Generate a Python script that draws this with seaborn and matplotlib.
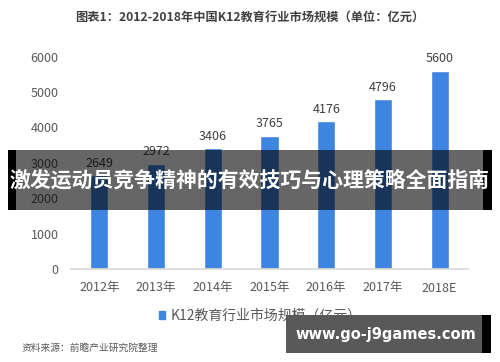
import matplotlib
matplotlib.use("Agg")
import matplotlib.pyplot as plt
from matplotlib.patches import Rectangle, Patch
import seaborn as sns
import pandas as pd

years = ["2012年", "2013年", "2014年", "2015年", "2016年", "2017年", "2018E"]
market = [2649, 2972, 3406, 3765, 4176, 4796, 5600]
yticks = [0, 1000, 2000, 3000, 4000, 5000, 6000]

title = "图表1：2012-2018年中国K12教育行业市场规模（单位：亿元）"
legend_label = "K12教育行业市场规模（亿元）"
source = "资料来源：前瞻产业研究院整理"
banner = "激发运动员竞争精神的有效技巧与心理策略全面指南"
site = "www.go-j9games.com"

bar_color = "#3d85e0"
W, H = 500, 362

sns.set_theme(style="white")
plt.rcParams["font.family"] = ["Noto Sans CJK SC", "DejaVu Sans"]

df = pd.DataFrame({"year": years, "value": market})

fig = plt.figure(figsize=(W / 100, H / 100), dpi=100)
fig.patch.set_facecolor("white")

def fx(px):
    return px / W

def fy(py):
    return 1 - py / H

ax = fig.add_axes([fx(71), fy(269), (468 - 71) / W, (269 - 56.5) / H])
sns.barplot(data=df, x="year", y="value", color=bar_color, width=0.32,
            saturation=1, ax=ax)
ax.set_xlim(-0.5, 6.5)
ax.set_ylim(0, 6000)
ax.set_yticks(yticks)
ax.set_xlabel("")
ax.set_ylabel("")
ax.bar_label(ax.containers[0], padding=4, fontsize=9, color="#404040")
ax.tick_params(axis="y", labelsize=9, colors="#595959", length=0, pad=9)
ax.tick_params(axis="x", labelsize=9, colors="#595959", length=0, pad=9)
for s in ["top", "right", "left"]:
    ax.spines[s].set_visible(False)
ax.spines["bottom"].set_color("#d9d9d9")
ax.grid(False)

fig.text(0.5, fy(17), title, ha="center", va="center", fontsize=8.8,
         fontweight="bold", color="#404040")

fig.legend(handles=[Patch(color=bar_color)], labels=[legend_label],
           loc="center left", bbox_to_anchor=(fx(146), fy(316)),
           frameon=False, fontsize=10, handlelength=0.45, handleheight=0.45,
           handletextpad=0.4, labelcolor="#595959")

fig.text(fx(22), fy(348), source, ha="left", va="center", fontsize=7,
         color="#595959", style="italic")

# dark banner across the middle
fig.patches.append(Rectangle((fx(8), fy(210)), fx(8), 60 / H, transform=fig.transFigure,
                             facecolor="black", edgecolor="none", zorder=5))
fig.patches.append(Rectangle((fx(483), fy(210)), fx(9), 60 / H, transform=fig.transFigure,
                             facecolor="black", edgecolor="none", zorder=5))
fig.patches.append(Rectangle((fx(16), fy(210)), fx(467), 60 / H, transform=fig.transFigure,
                             facecolor="black", alpha=0.6, edgecolor="none", zorder=5))
fig.text(0.5, fy(180), banner, ha="center", va="center", fontsize=15,
         fontweight="bold", color="white", zorder=6)

# site watermark box
fig.patches.append(Rectangle((fx(286), fy(353)), fx(196), 38 / H, transform=fig.transFigure,
                             facecolor="black", alpha=0.65, edgecolor="none", zorder=5))
fig.patches.append(Rectangle((fx(482), fy(353)), fx(9), 38 / H, transform=fig.transFigure,
                             facecolor="black", edgecolor="none", zorder=5))
fig.text(fx(386), fy(334), site, ha="center", va="center", fontsize=10.5,
         fontweight="bold", color="white", family="DejaVu Sans", zorder=6)

fig.savefig("out.png", dpi=100)
